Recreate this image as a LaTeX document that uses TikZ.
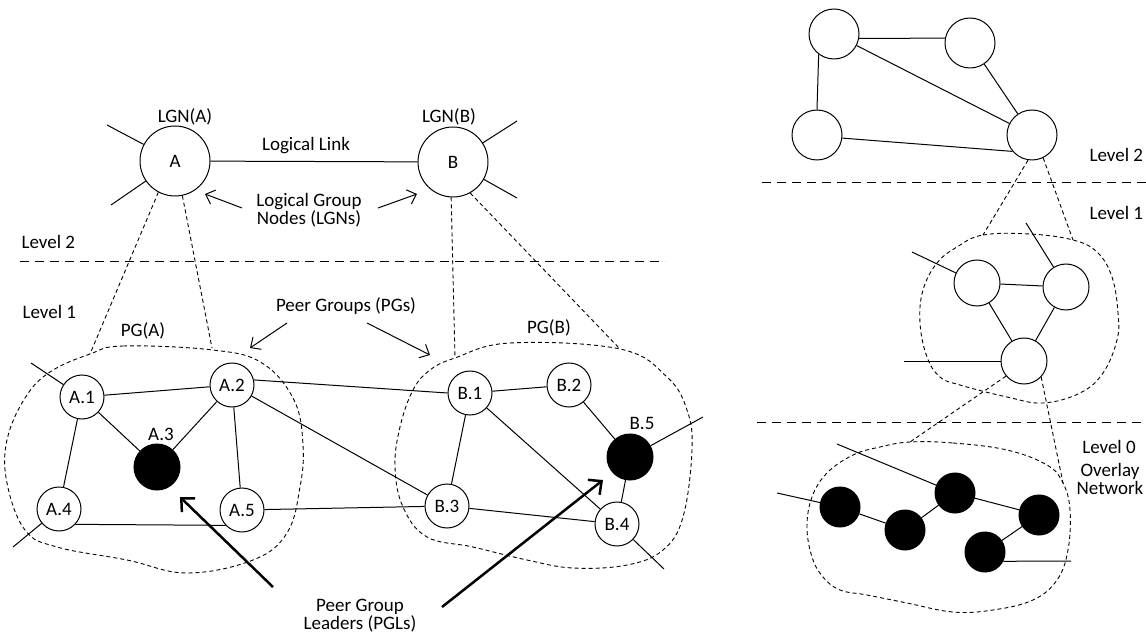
\documentclass[tikz,border=0pt]{standalone}
\usepackage{fontspec}
\setmainfont{Carlito}
\usetikzlibrary{arrows.meta}
\begin{document}
\begin{tikzpicture}[x=1pt,y=-1pt,
  every node/.style={font=\fontsize{19}{18}\selectfont},
  big/.style={circle,draw,line width=1pt,minimum size=70pt,inner sep=0pt},
  small/.style={circle,draw,line width=1pt,minimum size=44pt,inner sep=0pt},
  smallfill/.style={circle,draw,fill=black,line width=1pt,minimum size=46pt,inner sep=0pt},
  mid/.style={circle,draw,line width=1pt,minimum size=50pt,inner sep=0pt},
  midd/.style={circle,draw,line width=1pt,minimum size=46pt,inner sep=0pt},
  dot/.style={circle,draw,fill=black,line width=1pt,minimum size=40pt,inner sep=0pt},
  link/.style={line width=1pt},
  levline/.style={line width=1pt,dash pattern=on 9pt off 6pt},
  proj/.style={line width=0.9pt,dash pattern=on 4pt off 3pt},
  cloudline/.style={line width=0.9pt,dash pattern=on 4pt off 3pt},
  tarrow/.style={line width=1pt,-{Straight Barb[length=8pt,width=15pt]}},
  karrow/.style={line width=2.5pt,-{Straight Barb[length=10pt,width=19pt]}}
]
\useasboundingbox[fill=white] (0,0) rectangle (1146,636);

% ---------- Level lines ----------
\coordinate (l2a) at (20,262);   \coordinate (l2b) at (665,262);
\coordinate (r2a) at (762,183);  \coordinate (r2b) at (1146,183);
\coordinate (r1a) at (757,422);  \coordinate (r1b) at (1146,422);
\draw[levline] (l2a) -- (l2b);
\draw[levline] (r2a) -- (r2b);
\draw[levline] (r1a) -- (r1b);

% ---------- Level 2 left ----------
\node[big] (A) at (175,161) {A};
\node[big] (B) at (453,162) {B};
\node (lgnA) at (185,117) {LGN(A)};
\node (lgnB) at (449,117) {LGN(B)};
\draw[link] (A) -- (B);
\node (ll) at (306,146) {Logical Link};
\node[align=center] (lgns) at (309,210) {Logical Group\\Nodes (LGNs)};
\coordinate (sA1) at (107,125); \coordinate (sA2) at (111,205);
\coordinate (sB1) at (517,121); \coordinate (sB2) at (517,198);
\draw[link] (A) -- (sA1); \draw[link] (A) -- (sA2);
\draw[link] (B) -- (sB1); \draw[link] (B) -- (sB2);
\coordinate (tl1) at (242,208); \coordinate (tl1t) at (205,194);
\coordinate (tl2) at (378,208); \coordinate (tl2t) at (417,194);
\draw[tarrow] (tl1) -- (tl1t);
\draw[tarrow] (tl2) -- (tl2t);

\node[anchor=west] (lev2L) at (18,242) {Level 2};
\node[anchor=west] (lev1L) at (19,312) {Level 1};

% ---------- Peer groups ----------
\draw[cloudline] plot[smooth cycle,tension=0.65] coordinates {(90,354) (123,346) (213,350) (262,363) (294,400) (303,445) (300,487) (287,533) (253,560) (187,573) (127,560) (57,547) (25,530) (7,483) (7,440) (25,398) (50,372)};
\draw[cloudline] plot[smooth cycle,tension=0.65] coordinates {(455,358) (510,343) (620,349) (667,377) (687,410) (692,450) (683,517) (663,550) (627,565) (573,568) (527,560) (473,547) (427,537) (403,507) (395,467) (400,427) (413,390) (430,370)};
\coordinate (pa1) at (90,354);  \coordinate (pa2) at (212,348);
\coordinate (pb1) at (455,358); \coordinate (pb2) at (620,349);
\draw[proj] (A.242) -- (pa1);
\draw[proj] (A.282) -- (pa2);
\draw[proj] (B.267) -- (pb1);
\draw[proj] (B.299) -- (pb2);

\node (pgA) at (143,331) {PG(A)};
\node (pgB) at (549,328) {PG(B)};
\node (pgs) at (346,306) {Peer Groups (PGs)};
\coordinate (pg1) at (287,323); \coordinate (pg1t) at (250,348);
\coordinate (pg2) at (367,323); \coordinate (pg2t) at (430,355);
\draw[tarrow] (pg1) -- (pg1t);
\draw[tarrow] (pg2) -- (pg2t);

\node[small] (A1) at (82,397) {A.1};
\node[small] (A2) at (232,385) {A.2};
\node[smallfill] (A3) at (157,467) {};
\node (A3l) at (161,434) {A.3};
\node[small] (A4) at (59,509) {A.4};
\node[small] (A5) at (242,510) {A.5};

\node[small] (B1) at (470,393) {B.1};
\node[small] (B2) at (569,385) {B.2};
\node[small] (B3) at (447,506) {B.3};
\node[small] (B4) at (617,524) {B.4};
\node[smallfill] (B5) at (630,457) {};
\node (B5l) at (642,423) {B.5};

\draw[link] (A1) -- (A2);
\draw[link] (A1) -- (A3);
\draw[link] (A2) -- (A3);
\draw[link] (A1) -- (A4);
\draw[link] (A2) -- (A5);
\draw[link] (A4.-43) -- (A5.223);
\draw[link] (A2.13) -- (B1.180);
\draw[link] (A2) -- (B3);
\draw[link] (A5) -- (B3);
\draw[link] (B1) -- (B2);
\draw[link] (B2) -- (B5);
\draw[link] (B1) -- (B3);
\draw[link] (B1) -- (B4);
\draw[link] (B3) -- (B4);
\draw[link] (B4) -- (B5);
\coordinate (sa1) at (31,363); \coordinate (sa4) at (13,547);
\coordinate (sb5) at (703,417); \coordinate (sb4) at (664,569);
\draw[link] (A1) -- (sa1);
\draw[link] (A4) -- (sa4);
\draw[link] (B5) -- (sb5);
\draw[link] (B4) -- (sb4);

\node[align=center] (pgl) at (360,616) {Peer Group\\Leaders (PGLs)};
\coordinate (k1) at (273,587); \coordinate (k1t) at (180,497);
\coordinate (k2) at (442,607); \coordinate (k2t) at (603,480);
\draw[karrow] (k1) -- (k1t);
\draw[karrow] (k2) -- (k2t);

% ---------- Right side ----------
\node[mid] (C1) at (834,34) {};
\node[mid] (C2) at (970,43) {};
\node[mid] (C3) at (817,135) {};
\node[mid] (C4) at (1032,135) {};
\draw[link] (C1.-10) -- (C2.169);
\draw[link] (C1.233) -- (C3.north);
\draw[link] (C1) -- (C4);
\draw[link] (C2) -- (C4);
\draw[link] (C3.-7) -- (C4.220);
\node[anchor=west] (lev2R) at (1086,155) {Level 2};
\node[anchor=west] (lev1R) at (1086,213) {Level 1};

\draw[cloudline] plot[smooth cycle,tension=0.65] coordinates {(957,247) (983,235) (1030,234) (1073,240) (1097,252) (1112,277) (1118,313) (1117,340) (1103,373) (1080,393) (1043,403) (1007,397) (960,385) (940,377) (927,357) (920,323) (923,290) (937,263)};
\coordinate (pc1) at (983,235); \coordinate (pc2) at (1073,240);
\draw[proj] (C4.261) -- (pc1);
\draw[proj] (C4.296) -- (pc2);

\node[midd] (D1) at (977,283) {};
\node[midd] (D2) at (1066,287) {};
\node[midd] (D3) at (1024,361) {};
\draw[link] (D1) -- (D2);
\draw[link] (D1) -- (D3);
\draw[link] (D2) -- (D3);
\coordinate (sd1) at (912,252); \coordinate (sd2) at (1026,223); \coordinate (sd3) at (904,361);
\draw[link] (D1) -- (sd1);
\draw[link] (D2) -- (sd2);
\draw[link] (D3) -- (sd3);

\draw[cloudline] plot[smooth cycle,tension=0.65] coordinates {(910,442) (953,443) (1007,450) (1047,465) (1063,483) (1070,510) (1068,550) (1057,580) (1033,600) (993,610) (953,612) (907,603) (867,595) (840,590) (823,577) (812,557) (807,527) (812,497) (827,473) (853,455) (880,447)};
\coordinate (pd1) at (910,442); \coordinate (pd2) at (1063,483);
\draw[proj] (D3.220) -- (pd1);
\draw[proj] (D3.317) -- (pd2);

\node (lev0) at (1109,447) {Level 0};
\node[align=center] (ovl) at (1110,479) {Overlay\\Network};

\node[dot] (E1) at (840,507) {};
\node[dot] (E2) at (905,530) {};
\node[dot] (E3) at (955,493) {};
\node[dot] (E4) at (1039,515) {};
\node[dot] (E5) at (985,552) {};
\draw[link] (E1) -- (E2);
\draw[link] (E2) -- (E3);
\draw[link] (E3) -- (E4);
\draw[link] (E4) -- (E5);
\coordinate (se1) at (777,493); \coordinate (se3) at (837,444); \coordinate (se5) at (1071,561);
\draw[link] (E1) -- (se1);
\draw[link] (E3) -- (se3);
\draw[link] (E5.-27) -- (se5);
\end{tikzpicture}
\end{document}
